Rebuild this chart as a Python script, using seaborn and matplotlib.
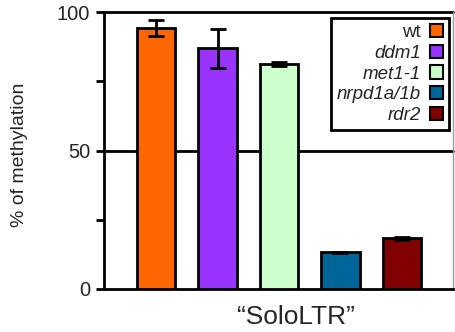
import matplotlib
matplotlib.use("Agg")
import matplotlib.pyplot as plt
from matplotlib.patches import Patch
import seaborn as sns
import pandas as pd

genotypes = ["wt", "ddm1", "met1-1", "nrpd1a/1b", "rdr2"]
methylation = [94.3, 86.9, 81.2, 13.2, 18.3]
errors = [2.9, 7.0, 0.8, 0.3, 0.5]
colors = ["#FF6600", "#9933FF", "#CCFFCC", "#006699", "#800000"]
y_ticks = [0, 50, 100]
x_label = "\u201cSoloLTR\u201d"
y_label = "% of methylation"

sns.set_style("white")
plt.rcParams["font.family"] = ["Liberation Sans", "DejaVu Sans"]

df = pd.DataFrame({"genotype": genotypes, "value": methylation})

fig = plt.figure(figsize=(4.55, 3.32), dpi=100)
ax = fig.add_axes([104 / 455, 1 - 289 / 332, (453 - 104) / 455, (289 - 12) / 332])

sns.barplot(data=df, x="genotype", y="value", hue="genotype",
            palette=colors, order=genotypes, hue_order=genotypes,
            width=0.62, edgecolor="black", linewidth=2, legend=False,
            errorbar=None, ax=ax, zorder=3, saturation=1)

ax.errorbar(range(len(genotypes)), methylation, yerr=errors, fmt="none",
            ecolor="black", elinewidth=2, capsize=5.5, capthick=2, zorder=4)

# major gridlines at 50 and 100
for v in (50, 100):
    ax.axhline(v, color="black", lw=2, zorder=1, clip_on=False)

ax.set_xlim(-0.846, 4.83)
ax.set_ylim(0, 100)
ax.set_yticks(y_ticks)
ax.set_yticks([25, 75], minor=True)
ax.tick_params(axis="y", which="both", direction="out", length=6, width=2,
               color="black", left=True, labelsize=14.5, pad=4)
ax.tick_params(axis="x", bottom=False, labelbottom=False)
ax.set_xlabel("")
ax.set_ylabel("")

for side in ("left", "bottom"):
    ax.spines[side].set_color("black")
    ax.spines[side].set_linewidth(2)
ax.spines["top"].set_visible(False)
ax.spines["right"].set_color("#999999")
ax.spines["right"].set_linewidth(1)

fig.text(20 / 455, 1 - 155 / 332, y_label, ha="center", va="center",
         rotation=90, fontsize=14)
fig.text(296 / 455, 1 - 317 / 332, x_label, ha="center", va="center", fontsize=19)

handles = [Patch(facecolor=c, edgecolor="black", linewidth=1.5) for c in colors]
leg = ax.legend(handles, genotypes, loc="upper right", bbox_to_anchor=(0.988, 0.978),
                markerfirst=False, fontsize=13.5, handlelength=0.7, handleheight=0.7,
                handletextpad=0.5, labelspacing=0.2, borderpad=0.3,
                frameon=True, fancybox=False, framealpha=1, borderaxespad=0)
leg.get_frame().set_edgecolor("black")
leg.get_frame().set_linewidth(2)
leg.set_zorder(5)
for t in leg.get_texts():
    t.set_ha("right")
    if t.get_text() != "wt":
        t.set_style("italic")

fig.savefig("out.png", dpi=100)
